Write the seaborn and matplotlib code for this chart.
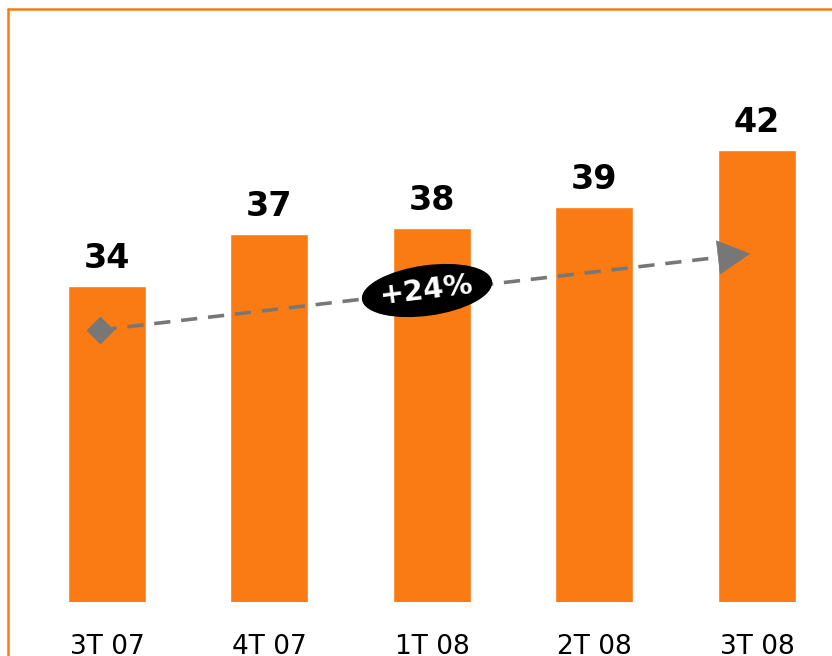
import numpy as np
import matplotlib.pyplot as plt
import seaborn as sns
from matplotlib.patches import Ellipse
from matplotlib.lines import Line2D

quarters = ["3T 07", "4T 07", "1T 08", "2T 08", "3T 08"]
# bar heights as drawn, and the rounded labels printed above them
values = [34.0, 37.05, 37.4, 38.6, 42.0]
labels = ["34", "37", "38", "39", "42"]
growth_label = "+24%"

orange = "#FA7B14"
grey = "#777777"

sns.set_style("white")
fig = plt.figure(figsize=(8.32, 6.56), dpi=100)
ax = fig.add_axes([0, 54 / 656, 1, 1 - 54 / 656])

sns.barplot(x=quarters, y=values, color=orange, saturation=1, width=0.48, ax=ax)
ax.set_xlim(-0.658, 4.462)
ax.set_ylim(15.4, 50.8)
ax.bar_label(ax.containers[0], labels=labels, padding=8, fontsize=24,
             fontweight="bold", color="black")

for s in ax.spines.values():
    s.set_visible(False)
ax.set_yticks([])
ax.set_xlabel(""); ax.set_ylabel("")
ax.tick_params(axis="x", length=0, pad=23, labelsize=19, labelcolor="black")
for t in ax.get_xticklabels():
    t.set_va("top")

# growth trend arrow
x0, y0 = -0.04, 31.4
x1, y1 = 3.975, 35.9
ax.plot([x0, x1 - 0.12], [y0, y1 - 0.13], color=grey, lw=2.6, ls=(0, (4.5, 3)))
ax.plot([x0], [y0], marker="D", ms=13, color=grey, ls="none")
ax.annotate("", xy=(x1, y1), xytext=(x1 - 0.2, y1 - 0.22),
            arrowprops=dict(arrowstyle="-|>,head_length=0.75,head_width=0.4",
                            color=grey, lw=0.5, mutation_scale=30))

# growth bubble
ell = Ellipse((4.27, 3.655), 1.3, 0.49, angle=8, color="black",
              transform=fig.dpi_scale_trans, zorder=5)
fig.patches.append(ell)
fig.text(427 / 832, 1 - 290 / 656, growth_label, color="white", fontsize=21,
         fontweight="bold", ha="center", va="center", rotation=7, zorder=6)

# orange frame (top and left)
fig.add_artist(Line2D([8 / 832, 1], [1 - 9 / 656, 1 - 9 / 656], color=orange, lw=1.8))
fig.add_artist(Line2D([8 / 832, 8 / 832], [0, 1 - 9 / 656], color=orange, lw=1.8))

fig.savefig("out.png", dpi=100)
